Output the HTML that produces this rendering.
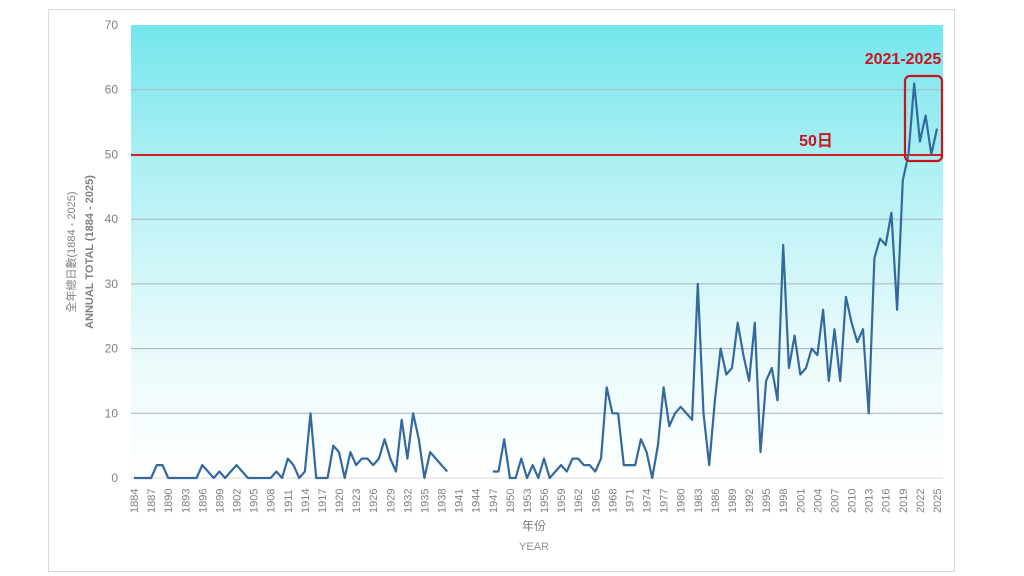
<!DOCTYPE html>
<html><head><meta charset="utf-8"><style>
body{margin:0;width:1024px;height:576px;background:#fff;overflow:hidden}
svg{display:block}
text{font-family:"Liberation Sans","Noto Sans CJK TC",sans-serif}
</style></head><body>
<svg id="s" width="1024" height="576" xmlns="http://www.w3.org/2000/svg">
<defs><linearGradient id="g" x1="0" y1="0" x2="0" y2="1">
<stop offset="0" stop-color="#74e6ed"/><stop offset="0.35" stop-color="#b4f1f4"/><stop offset="0.7" stop-color="#e8fafc"/><stop offset="1" stop-color="#ffffff"/></linearGradient></defs>
<rect x="48.5" y="9.5" width="906" height="562" fill="#fff" stroke="#d9d9d9"/>
<rect x="131" y="25" width="812" height="453" fill="url(#g)"/>
<g id="grid" stroke="#a6b4bc" stroke-width="1"></g>
<g id="yl" font-size="12" fill="#808080" text-anchor="end"></g>
<g id="xl" font-size="11" fill="#808080"></g>
<line x1="131" y1="155" x2="943" y2="155" stroke="#d0202a" stroke-width="2"/>
<path id="p" fill="none" stroke="#33699d" stroke-width="2.2" stroke-linejoin="round"/>
<rect x="905" y="76" width="37" height="85" rx="5" fill="none" stroke="#c8141e" stroke-width="2.2"/>
<text x="903" y="64" font-size="16" font-weight="bold" fill="#c8141e" text-anchor="middle">2021-2025</text>
<text x="816" y="146" font-size="16" font-weight="bold" fill="#c8141e" text-anchor="middle">50日</text>
<text transform="translate(75,252) rotate(-90)" font-size="11" fill="#808080" text-anchor="middle">全年總日數(1884 - 2025)</text>
<text transform="translate(93,252) rotate(-90)" font-size="11" font-weight="bold" fill="#808080" text-anchor="middle">ANNUAL TOTAL (1884 - 2025)</text>
<text x="534" y="530" font-size="12" fill="#808080" text-anchor="middle">年份</text>
<text x="534" y="550" font-size="11" fill="#909090" text-anchor="middle">YEAR</text>
</svg>
<script>
var d={};
var a=[0,0,0,0,2,2,0,0,0,0,0,0,2,1,0,1,0,1,2,1,0,0,0,0,0,1,0,3,2,0,1,10,0,0,0,5,4,0,4,2,3,3,2,3,6,3,1,9,3,10,6,0,4,3,2,1];
for(var i=0;i<a.length;i++)d[1884+i]=a[i];
var b=[1,1,6,0,0,3,0,2,0,3,0,1,2,1,3,3,2,2,1,3,14,10,10,2,2,2,6,4,0,5,14,8,10,11,10,9,30,10,2,12,20,16,17,24,19,15,24,4,15,17,12,36,17,22,16,17,20,19,26,15,23,15,28,24,21,23,10,34,37,36,41,26,46,50,61,52,56,50,54];
for(var i=0;i<b.length;i++)d[1947+i]=b[i];
function X(y){return 134+(y-1884)*5.695}
function Y(v){return 478-v*6.471}
var p="",pen=false;
for(var y=1884;y<=2025;y++){if(d[y]===undefined){pen=false;continue}p+=(pen?"L":"M")+X(y).toFixed(1)+" "+Y(d[y]).toFixed(1);pen=true}
document.getElementById("p").setAttribute("d",p);
var ns="http://www.w3.org/2000/svg",g=document.getElementById("grid"),yl=document.getElementById("yl"),xl=document.getElementById("xl");
for(var v=0;v<=70;v+=10){if(v>0&&v<70){var l=document.createElementNS(ns,"line");l.setAttribute("x1",131);l.setAttribute("x2",943);l.setAttribute("y1",Y(v).toFixed(1));l.setAttribute("y2",Y(v).toFixed(1));g.appendChild(l)}
if(v==0){var l=document.createElementNS(ns,"line");l.setAttribute("x1",131);l.setAttribute("x2",943);l.setAttribute("y1",478);l.setAttribute("y2",478);l.setAttribute("stroke","#d9d9d9");g.appendChild(l)}
var t=document.createElementNS(ns,"text");t.setAttribute("x",118);t.setAttribute("y",Y(v)+4);t.textContent=v;yl.appendChild(t)}
for(var y=1884;y<=2025;y+=3){var t=document.createElementNS(ns,"text");var x=X(y)+4;t.setAttribute("transform","translate("+x.toFixed(1)+",513) rotate(-90)");t.textContent=y;xl.appendChild(t)}
</script>
</body></html>
